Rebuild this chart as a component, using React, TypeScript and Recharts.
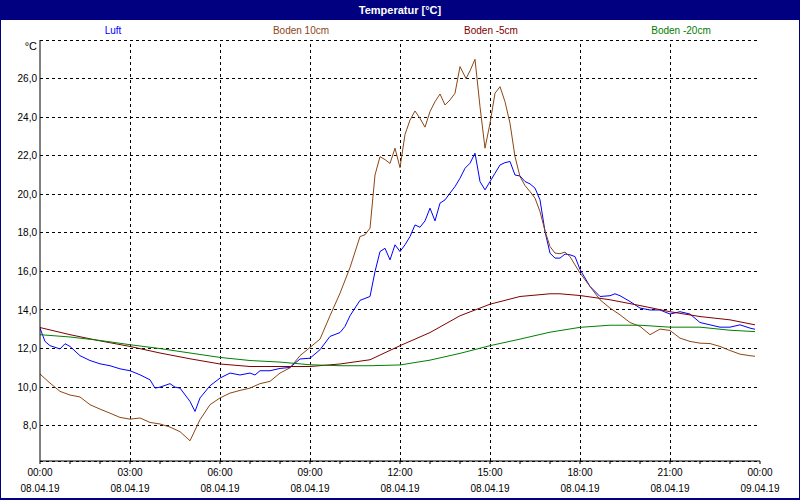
import { LineChart, Line, XAxis, YAxis, CartesianGrid, ReferenceLine } from "recharts";

// minutes since 08.04.19 00:00
const BODEN10_MIN = [
  0, 20, 40, 60, 80, 100, 120, 140, 160, 180, 200, 220, 240, 260, 280, 300, 320, 340, 360, 380,
  400, 420, 440, 460, 480, 500, 520, 540, 560, 580, 600, 620, 640, 650, 660, 670, 680, 690, 700,
  710, 720, 730, 740, 750, 760, 770, 780, 790, 800, 810, 820, 830, 840, 852, 860, 870, 880, 890,
  900, 910, 920, 930, 940, 950, 960, 970, 980, 990, 1000, 1010, 1020, 1030, 1040, 1050, 1060,
  1070, 1080, 1100, 1120, 1140, 1160, 1180, 1200, 1220, 1240, 1260, 1280, 1300, 1320, 1340,
  1360, 1380, 1400, 1420, 1430,
];
const BODEN10 = [
  10.68, 10.21, 9.78, 9.59, 9.49, 9.09, 8.86, 8.65, 8.43, 8.34, 8.4, 8.17, 8.09, 7.93, 7.69, 7.22,
  8.31, 9.09, 9.44, 9.69, 9.83, 9.95, 10.18, 10.3, 10.73, 11.0, 11.63, 12.06, 12.49, 13.7, 14.87,
  16.2, 17.81, 17.9, 18.24, 21.0, 21.95, 21.8, 21.6, 22.39, 21.38, 23.1, 23.85, 24.32, 23.94,
  23.48, 24.29, 24.8, 25.2, 24.63, 24.89, 25.24, 26.62, 26.0, 26.4, 27.0, 24.54, 22.39, 23.68,
  25.24, 25.58, 24.8, 23.68, 21.95, 20.92, 20.45, 20.14, 19.8, 19.1, 18.1, 17.29, 16.95, 16.92,
  17.0, 16.77, 16.34, 15.92, 15.22, 14.53, 14.1, 13.75, 13.35, 13.15, 12.72, 13.01, 12.94, 12.54,
  12.37, 12.28, 12.26, 12.11, 11.9, 11.71, 11.63, 11.6,
];

const LUFT_MIN = [
  0, 10, 20, 40, 50, 60, 80, 100, 120, 140, 160, 180, 200, 220, 230, 240, 260, 270, 280, 300, 310,
  320, 340, 360, 380, 400, 420, 430, 440, 460, 480, 500, 520, 540, 560, 580, 600, 610, 620, 640,
  660, 670, 680, 690, 700, 710, 720, 730, 740, 750, 760, 770, 780, 790, 800, 810, 820, 830, 840,
  850, 860, 870, 880, 890, 900, 910, 920, 930, 940, 950, 960, 970, 980, 990, 1000, 1010, 1020,
  1030, 1040, 1050, 1060, 1070, 1080, 1100, 1120, 1140, 1150, 1160, 1180, 1200, 1220, 1240, 1260,
  1280, 1300, 1320, 1340, 1360, 1380, 1400, 1420, 1430,
];
const LUFT = [
  13.06, 12.37, 12.15, 11.98, 12.25, 12.11, 11.63, 11.38, 11.21, 11.11, 10.95, 10.85, 10.64, 10.38,
  9.95, 10.0, 10.18, 10.0, 9.95, 9.26, 8.74, 9.44, 10.07, 10.47, 10.73, 10.63, 10.73, 10.63, 10.85,
  10.85, 10.97, 11.02, 11.46, 11.5, 11.94, 12.63, 12.83, 13.15, 13.7, 14.5, 14.7, 15.99, 17.03,
  17.2, 16.6, 17.38, 17.03, 17.38, 17.81, 18.41, 18.29, 18.62, 19.28, 18.62, 19.54, 19.71, 20.06,
  20.4, 20.83, 21.35, 21.61, 22.13, 20.66, 20.23, 20.66, 21.09, 21.52, 21.64, 21.7, 21.0, 20.95,
  20.66, 20.54, 20.32, 19.71, 18.07, 16.95, 16.69, 16.69, 16.9, 16.86, 16.77, 16.1, 15.22, 14.7,
  14.74, 14.84, 14.74, 14.44, 14.1, 14.0, 14.0, 13.79, 13.91, 13.79, 13.35, 13.23, 13.11, 13.11,
  13.23, 13.06, 13.0,
];

const BODEN5_MIN = [
  0, 60, 120, 180, 240, 300, 360, 420, 480, 540, 600, 660, 720, 780, 840, 900, 960, 1020, 1040,
  1080, 1140, 1200, 1260, 1320, 1380, 1430,
];
const BODEN5 = [
  13.09, 12.72, 12.4, 12.11, 11.77, 11.47, 11.2, 11.07, 11.07, 11.07, 11.2, 11.42, 12.15, 12.83,
  13.7, 14.3, 14.7, 14.84, 14.84, 14.75, 14.53, 14.23, 13.91, 13.66, 13.49, 13.23,
];

const BODEN20_MIN = [
  0, 60, 120, 180, 240, 300, 360, 420, 480, 540, 600, 660, 720, 780, 840, 900, 960, 1020, 1080,
  1140, 1200, 1260, 1320, 1380, 1430,
];
const BODEN20 = [
  12.72, 12.6, 12.42, 12.2, 12.0, 11.77, 11.54, 11.38, 11.3, 11.16, 11.11, 11.11, 11.15, 11.4,
  11.75, 12.15, 12.49, 12.85, 13.1, 13.21, 13.21, 13.11, 13.11, 12.95, 12.88,
];

const HOUR_TICKS = [
  0, 60, 120, 180, 240, 300, 360, 420, 480, 540, 600, 660, 720, 780, 840, 900, 960, 1020, 1080,
  1140, 1200, 1260, 1320, 1380, 1440,
];
const MAJOR_TICKS = [0, 180, 360, 540, 720, 900, 1080, 1260, 1440];
const TIME_LABELS = ["00:00", "03:00", "06:00", "09:00", "12:00", "15:00", "18:00", "21:00", "00:00"];
const DATE_LABELS = [
  "08.04.19", "08.04.19", "08.04.19", "08.04.19", "08.04.19", "08.04.19", "08.04.19", "08.04.19",
  "09.04.19",
];
const Y_TICKS = [8, 10, 12, 14, 16, 18, 20, 22, 24, 26];

const SERIES = [
  { name: "Luft", color: "#0000ff", min: LUFT_MIN, vals: LUFT },
  { name: "Boden 10cm", color: "#8c4614", min: BODEN10_MIN, vals: BODEN10 },
  { name: "Boden -5cm", color: "#800000", min: BODEN5_MIN, vals: BODEN5 },
  { name: "Boden -20cm", color: "#008000", min: BODEN20_MIN, vals: BODEN20 },
];

const FONT = "'Liberation Sans', Arial, sans-serif";

function TimeTick(props: any) {
  const { x, y, payload } = props;
  const i = MAJOR_TICKS.indexOf(payload.value);
  if (i < 0) return <g />;
  return (
    <g fontFamily={FONT} fontSize={10} fill="#000">
      <text x={x} y={y} dy={12} textAnchor="middle">
        {TIME_LABELS[i]}
      </text>
      <text x={x} y={y} dy={28} textAnchor="middle">
        {DATE_LABELS[i]}
      </text>
    </g>
  );
}

export default function App() {
  const legendCenters = [113, 301, 491, 681];
  return (
    <div
      style={{
        position: "absolute",
        left: 0,
        top: 0,
        width: 800,
        height: 500,
        background: "#fff",
        fontFamily: FONT,
        overflow: "hidden",
      }}
    >
      <LineChart
        width={800}
        height={500}
        margin={{ top: 40, right: 40, bottom: 0, left: 0 }}
        style={{ position: "absolute", left: 0, top: 0 }}
      >
        <CartesianGrid
          vertical={false}
          stroke="#000"
          strokeDasharray="3 3"
          shapeRendering="crispEdges"
        />
        <XAxis
          type="number"
          dataKey="t"
          domain={[0, 1440]}
          ticks={HOUR_TICKS}
          interval={0}
          height={39}
          tickSize={3}
          tickMargin={0}
          tick={<TimeTick />}
          axisLine={{ stroke: "#000" }}
          tickLine={{ stroke: "#000" }}
          allowDataOverflow
        />
        <XAxis
          xAxisId="top"
          orientation="top"
          type="number"
          domain={[0, 1440]}
          height={0}
          tick={false}
          tickLine={false}
          axisLine={{ stroke: "#000" }}
        />
        <YAxis
          type="number"
          domain={[6.17, 28]}
          ticks={Y_TICKS}
          interval={0}
          width={40}
          tickSize={0}
          tickMargin={3}
          tickLine={false}
          axisLine={{ stroke: "#000" }}
          tickFormatter={(v: number) => v.toFixed(1).replace(".", ",")}
          tick={{ fill: "#000", fontSize: 10, fontFamily: FONT }}
          allowDataOverflow
        />
        <YAxis
          yAxisId="right"
          orientation="right"
          width={0}
          tick={false}
          tickLine={false}
          axisLine={{ stroke: "#000" }}
        />
        {MAJOR_TICKS.slice(1, -1).map((t) => (
          <ReferenceLine
            key={t}
            x={t}
            stroke="#000"
            strokeDasharray="3 3"
            shapeRendering="crispEdges"
          />
        ))}
        {SERIES.map((s) => (
          <Line
            key={s.name}
            data={s.min.map((t, i) => ({ t, v: s.vals[i] }))}
            dataKey="v"
            name={s.name}
            stroke={s.color}
            strokeWidth={1}
            dot={false}
            type="linear"
            isAnimationActive={false}
          />
        ))}
      </LineChart>

      <div
        style={{
          position: "absolute",
          left: 0,
          top: 0,
          width: 800,
          height: 20,
          background: "#000080",
          color: "#fff",
          fontWeight: "bold",
          fontSize: 11,
          lineHeight: "20px",
          textAlign: "center",
        }}
      >
        Temperatur [°C]
      </div>

      {SERIES.map((s, i) => (
        <div
          key={s.name}
          style={{
            position: "absolute",
            left: legendCenters[i] - 60,
            top: 24,
            width: 120,
            textAlign: "center",
            fontSize: 10,
            lineHeight: "14px",
            color: s.color,
          }}
        >
          {s.name}
        </div>
      ))}

      <div
        style={{
          position: "absolute",
          left: 0,
          top: 39,
          width: 37,
          textAlign: "right",
          fontSize: 11,
          lineHeight: "14px",
          color: "#000",
        }}
      >
        °C
      </div>

      <div
        style={{
          position: "absolute",
          left: 0,
          top: 0,
          width: 800,
          height: 500,
          boxSizing: "border-box",
          border: "1px solid #000080",
          borderBottomWidth: 2,
          pointerEvents: "none",
        }}
      />
    </div>
  );
}
